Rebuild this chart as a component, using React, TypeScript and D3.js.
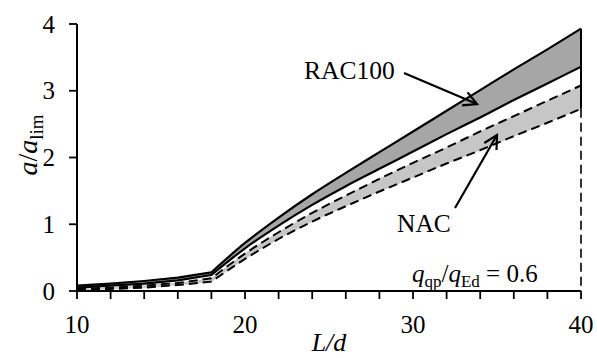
import React from "react";
import * as d3 from "d3";

const LD = [10, 12, 14, 16, 18, 20, 22, 24, 26, 28, 30, 32, 34, 36, 38, 40];
const racUpper = [0.08, 0.11, 0.15, 0.2, 0.28, 0.72, 1.1, 1.45, 1.77, 2.08, 2.39, 2.7, 3.01, 3.32, 3.62, 3.93];
const racLower = [0.05, 0.08, 0.11, 0.16, 0.24, 0.64, 0.98, 1.29, 1.57, 1.83, 2.09, 2.35, 2.6, 2.86, 3.11, 3.36];
const nacUpper = [0.03, 0.05, 0.08, 0.12, 0.19, 0.56, 0.88, 1.17, 1.43, 1.68, 1.92, 2.15, 2.39, 2.62, 2.85, 3.08];
const nacLower = [0.01, 0.03, 0.05, 0.09, 0.14, 0.48, 0.78, 1.04, 1.27, 1.49, 1.7, 1.91, 2.11, 2.32, 2.52, 2.73];
const xTickLabels = [10, 20, 30, 40];
const xMinorTicks = d3.range(10, 41, 2);
const yTicks = [0, 1, 2, 3, 4];
const KINK = 18;

const W = 597;
const H = 358;
const FONT = "'Liberation Serif', 'Times New Roman', serif";

function Arrow({ x1, y1, x2, y2 }: { x1: number; y1: number; x2: number; y2: number }) {
  const ang = Math.atan2(y2 - y1, x2 - x1);
  const len = 15;
  const spread = (28 * Math.PI) / 180;
  const a1 = ang + Math.PI - spread;
  const a2 = ang + Math.PI + spread;
  return (
    <g stroke="#000" strokeWidth={2.2} fill="none">
      <line x1={x1} y1={y1} x2={x2} y2={y2} />
      <path
        d={`M${x2 + len * Math.cos(a1)},${y2 + len * Math.sin(a1)} L${x2},${y2} L${x2 + len * Math.cos(a2)},${y2 + len * Math.sin(a2)}`}
      />
    </g>
  );
}

export default function App() {
  const x = d3.scaleLinear().domain([10, 40]).range([77, 581]);
  const y = d3.scaleLinear().domain([0, 4]).range([291, 24]);

  const kIdx = LD.indexOf(KINK);
  const pts = (arr: number[]) => LD.map((d, i) => [d, arr[i]] as [number, number]);
  const linGen = d3
    .line<[number, number]>()
    .x((d) => x(d[0]))
    .y((d) => y(d[1]));
  const curveGen = d3
    .line<[number, number]>()
    .curve(d3.curveMonotoneX)
    .x((d) => x(d[0]))
    .y((d) => y(d[1]));
  const fullLine = (arr: number[]) => {
    const p = pts(arr);
    const a = linGen(p.slice(0, kIdx + 1)) as string;
    const b = curveGen(p.slice(kIdx)) as string;
    return a + "L" + b.slice(1);
  };
  const bandPath = (up: number[], lo: number[]) => {
    const pu = pts(up);
    const pl = pts(lo);
    const idx = LD.map((_, i) => i);
    const aLin = d3
      .area<number>()
      .x((i) => x(LD[i]))
      .y0((i) => y(pl[i][1]))
      .y1((i) => y(pu[i][1]));
    const aCur = d3
      .area<number>()
      .curve(d3.curveMonotoneX)
      .x((i) => x(LD[i]))
      .y0((i) => y(pl[i][1]))
      .y1((i) => y(pu[i][1]));
    return [aLin(idx.slice(0, kIdx + 1)) as string, aCur(idx.slice(kIdx)) as string];
  };

  const last = LD.length - 1;
  const racBand = bandPath(racUpper, racLower);
  const nacBand = bandPath(nacUpper, nacLower);

  return (
    <svg
      width={W}
      height={H}
      style={{ position: "absolute", left: 0, top: 0, background: "#fff" }}
      fontFamily={FONT}
    >
      {racBand.map((d, i) => (
        <path key={"r" + i} d={d} fill="#a6a6a6" stroke="#a6a6a6" strokeWidth={0.5} />
      ))}
      {nacBand.map((d, i) => (
        <path key={"n" + i} d={d} fill="#c6c6c6" stroke="#c6c6c6" strokeWidth={0.5} />
      ))}

      <path d={fullLine(racUpper)} fill="none" stroke="#000" strokeWidth={2.2} strokeLinejoin="round" />
      <path d={fullLine(racLower)} fill="none" stroke="#000" strokeWidth={2.2} strokeLinejoin="round" />
      <path d={fullLine(nacUpper)} fill="none" stroke="#000" strokeWidth={2} strokeDasharray="9,5" />
      <path d={fullLine(nacLower)} fill="none" stroke="#000" strokeWidth={2} strokeDasharray="9,5" />

      {/* right edge */}
      <line x1={x(40)} x2={x(40)} y1={y(racUpper[last])} y2={y(nacLower[last])} stroke="#000" strokeWidth={2} />
      <line x1={x(40)} x2={x(40)} y1={y(nacLower[last])} y2={y(0)} stroke="#000" strokeWidth={1.6} strokeDasharray="9,5" />

      {/* axes */}
      <line x1={x(10)} x2={x(40)} y1={y(0)} y2={y(0)} stroke="#000" strokeWidth={2} />
      <line x1={x(10)} x2={x(10)} y1={y(0)} y2={y(4)} stroke="#000" strokeWidth={2} />
      {xMinorTicks.map((t) => (
        <line key={t} x1={x(t)} x2={x(t)} y1={y(0)} y2={y(0) + 8} stroke="#000" strokeWidth={1.8} />
      ))}
      {yTicks.map((t) => (
        <line key={t} x1={x(10) - 8} x2={x(10)} y1={y(t)} y2={y(t)} stroke="#000" strokeWidth={1.8} />
      ))}
      {xTickLabels.map((t) => (
        <text key={t} x={x(t)} y={333} fontSize={25} textAnchor="middle">
          {t}
        </text>
      ))}
      {yTicks.map((t) => (
        <text key={t} x={55} y={y(t) + 8.5} fontSize={25} textAnchor="end">
          {t}
        </text>
      ))}

      {/* axis titles */}
      <text x={329} y={351} fontSize={26} textAnchor="middle" fontStyle="italic">
        L/d
      </text>
      <text transform="translate(37,145) rotate(-90)" fontSize={28} textAnchor="middle">
        <tspan fontStyle="italic">a</tspan>
        <tspan>/</tspan>
        <tspan fontStyle="italic">a</tspan>
        <tspan fontSize={19} dy={6}>lim</tspan>
      </text>

      {/* annotations */}
      <text x={304} y={79} fontSize={25.5}>RAC100</text>
      <Arrow x1={404} y1={73} x2={477} y2={104} />
      <text x={397} y={232} fontSize={25.5}>NAC</text>
      <Arrow x1={455} y1={208} x2={497} y2={135} />

      <text x={412} y={282} fontSize={25}>
        <tspan fontStyle="italic">q</tspan>
        <tspan fontSize={17} dy={5}>qp</tspan>
        <tspan dy={-5}>/</tspan>
        <tspan fontStyle="italic">q</tspan>
        <tspan fontSize={17} dy={5}>Ed</tspan>
        <tspan dy={-5}> = 0.6</tspan>
      </text>
    </svg>
  );
}
